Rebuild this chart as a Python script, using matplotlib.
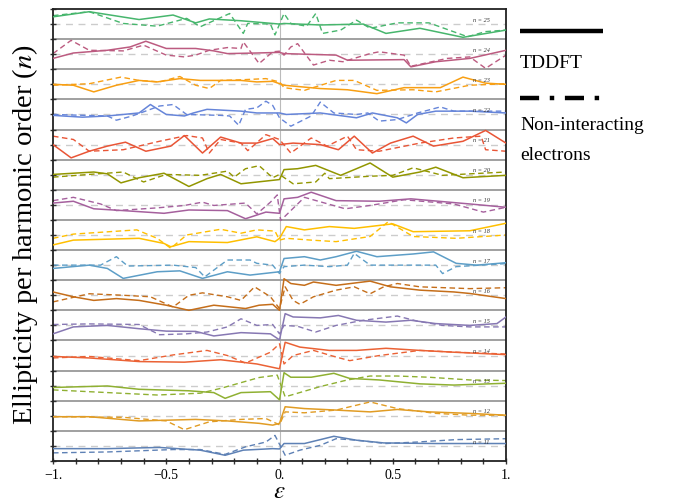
import numpy as np
import matplotlib.pyplot as plt

plt.rcParams['font.family'] = ['Liberation Serif', 'DejaVu Serif']
plt.rcParams['mathtext.fontset'] = 'stix'

# ellipticity per harmonic, (epsilon, value), value in strip units
td11 = [(-1, -0.09), (-0.76, -0.09), (-0.53, -0.05), (-0.35, -0.14), (-0.24, -0.31), (-0.16, -0.14),
        (-0.03, -0.09), (0.0, -0.1), (0.02, 0.08), (0.11, 0.08), (0.24, 0.32), (0.34, 0.19), (0.46, 0.1),
        (0.69, 0.08), (1.0, 0.08)]
ni11 = [(-1, -0.23), (-0.76, -0.2), (-0.47, -0.12), (-0.35, -0.12), (-0.24, -0.28), (-0.15, -0.03),
        (-0.06, 0.13), (-0.02, 0.35), (0.025, -0.31), (0.09, -0.14), (0.18, 0.02), (0.25, 0.24),
        (0.34, 0.19), (0.47, 0.08), (0.61, 0.13), (0.78, 0.21), (1.0, 0.24)]
td12 = [(-1, -0.03), (-0.84, -0.03), (-0.62, -0.17), (-0.37, -0.12), (-0.23, -0.17), (-0.09, -0.25),
        (-0.03, -0.31), (0.0, -0.25), (0.025, 0.3), (0.11, 0.24), (0.25, 0.19), (0.4, 0.13), (0.52, 0.21),
        (0.66, 0.13), (0.84, 0.08), (1.0, 0.02)]
ni12 = [(-1, -0.03), (-0.69, -0.05), (-0.5, -0.17), (-0.42, -0.46), (-0.31, -0.2), (-0.17, -0.12),
        (-0.06, -0.09), (0.0, -0.3), (0.025, 0.13), (0.11, 0.1), (0.25, 0.19), (0.4, 0.46), (0.52, 0.24),
        (0.69, 0.08), (0.84, 0.02), (1.0, 0.02)]
td13 = [(-1, -0.06), (-0.76, -0.01), (-0.62, -0.12), (-0.4, -0.17), (-0.29, -0.23), (-0.24, -0.42),
        (-0.17, -0.23), (-0.04, -0.2), (0.0, -0.47), (0.02, 0.43), (0.05, 0.28), (0.14, 0.28),
        (0.24, 0.41), (0.31, 0.24), (0.44, 0.19), (0.62, 0.06), (0.77, 0.02), (1.0, 0.08)]
ni13 = [(-1, -0.14), (-0.84, -0.2), (-0.54, -0.31), (-0.35, -0.25), (-0.26, -0.09), (-0.17, 0.1),
        (-0.09, 0.27), (-0.01, 0.35), (0.025, -0.37), (0.08, -0.25), (0.18, -0.03), (0.3, 0.19),
        (0.4, 0.32), (0.52, 0.32), (0.66, 0.28), (0.84, 0.19), (1.0, 0.17)]
td14 = [(-1, -0.03), (-0.84, -0.08), (-0.62, -0.2), (-0.42, -0.22), (-0.26, -0.14), (-0.1, -0.28),
        (0.0, -0.44), (0.025, 0.44), (0.09, 0.28), (0.22, 0.17), (0.34, 0.17), (0.47, 0.24),
        (0.62, 0.17), (0.77, 0.11), (1.0, 0.03)]
ni14 = [(-1, -0.08), (-0.84, -0.03), (-0.62, -0.17), (-0.47, 0.02), (-0.32, 0.17), (-0.23, 0.0),
        (-0.15, -0.25), (-0.04, 0.11), (0.0, 0.39), (0.02, -0.28), (0.06, 0.0), (0.15, 0.17),
        (0.25, -0.05), (0.31, -0.17), (0.44, 0.0), (0.62, 0.17), (0.78, 0.11), (1.0, 0.05)]
td15 = [(-1, -0.28), (-0.91, -0.05), (-0.76, 0.0), (-0.62, -0.11), (-0.5, -0.19), (-0.37, -0.2),
        (-0.29, -0.35), (-0.17, -0.24), (-0.04, -0.28), (0.0, -0.48), (0.025, 0.39), (0.06, 0.28),
        (0.18, 0.25), (0.26, 0.33), (0.34, 0.17), (0.47, 0.11), (0.58, 0.17), (0.69, 0.06),
        (0.84, 0.0), (0.96, 0.06), (1.0, 0.28)]
ni15 = [(-1, 0.03), (-0.84, 0.05), (-0.62, 0.03), (-0.53, -0.31), (-0.41, -0.28), (-0.32, -0.22),
        (-0.23, -0.05), (-0.17, 0.22), (-0.1, 0.0), (-0.03, 0.03), (0.0, -0.28), (0.02, 0.0),
        (0.08, -0.03), (0.16, -0.22), (0.25, 0.0), (0.37, 0.17), (0.52, 0.31), (0.61, 0.14),
        (0.72, 0.0), (0.84, -0.05), (1.0, -0.05)]
td16 = [(-1, 0.11), (-0.91, -0.05), (-0.82, -0.17), (-0.72, -0.11), (-0.62, -0.17), (-0.5, -0.33),
        (-0.4, -0.5), (-0.29, -0.33), (-0.15, -0.44), (-0.09, -0.33), (-0.03, -0.3), (0.0, -0.5),
        (0.02, 0.55), (0.05, 0.39), (0.11, 0.33), (0.15, 0.44), (0.25, 0.33), (0.4, 0.47),
        (0.49, 0.28), (0.62, 0.17), (0.77, 0.11), (0.84, 0.06), (1.0, -0.11)]
ni16 = [(-1, -0.22), (-0.84, 0.05), (-0.69, 0.0), (-0.57, -0.05), (-0.47, -0.39), (-0.4, 0.0),
        (-0.34, 0.08), (-0.23, -0.05), (-0.17, -0.17), (-0.11, 0.28), (-0.04, -0.05), (0.0, -0.44),
        (0.025, 0.28), (0.06, -0.17), (0.09, -0.3), (0.15, -0.05), (0.25, 0.17), (0.33, 0.28),
        (0.4, 0.05), (0.46, 0.28), (0.52, 0.39), (0.62, 0.28), (0.84, 0.22), (1.0, 0.25)]
td17 = [(-1, -0.11), (-0.84, 0.0), (-0.76, -0.11), (-0.69, -0.44), (-0.54, -0.22), (-0.44, -0.19),
        (-0.34, -0.44), (-0.23, -0.22), (-0.13, -0.33), (0.0, -0.22), (0.02, 0.22), (0.11, 0.28),
        (0.18, 0.17), (0.25, 0.28), (0.34, 0.46), (0.43, 0.28), (0.59, 0.37), (0.68, 0.44),
        (0.78, 0.06), (0.87, 0.0), (1.0, 0.08)]
ni17 = [(-1, 0.0), (-0.79, 0.0), (-0.72, 0.28), (-0.67, -0.03), (-0.47, 0.0), (-0.37, -0.08),
        (-0.33, -0.39), (-0.23, 0.17), (-0.13, 0.17), (-0.1, 0.06), (-0.03, 0.0), (0.0, -0.28),
        (0.02, -0.05), (0.11, 0.0), (0.22, -0.05), (0.3, 0.0), (0.33, 0.39), (0.4, 0.0), (0.69, 0.0),
        (0.72, -0.28), (0.78, -0.05), (1.0, 0.05)]
td18 = [(-1, -0.33), (-0.91, -0.17), (-0.62, -0.11), (-0.51, -0.28), (-0.48, -0.39), (-0.4, -0.22),
        (-0.23, -0.25), (-0.1, -0.06), (-0.02, -0.22), (0.0, -0.11), (0.03, 0.28), (0.11, 0.17),
        (0.22, 0.28), (0.33, 0.22), (0.5, 0.37), (0.59, 0.11), (0.84, 0.14), (1.0, 0.39)]
ni18 = [(-1, -0.11), (-0.91, 0.03), (-0.63, 0.17), (-0.54, -0.11), (-0.48, -0.44), (-0.41, 0.0),
        (-0.26, 0.19), (-0.17, 0.06), (-0.1, 0.17), (-0.02, 0.13), (0.0, -0.17), (0.03, -0.11),
        (0.14, -0.17), (0.25, -0.22), (0.4, -0.05), (0.48, 0.44), (0.59, -0.05), (0.78, -0.11),
        (1.0, 0.0)]
td19 = [(-1, 0.06), (-0.91, 0.12), (-0.82, -0.13), (-0.69, -0.19), (-0.51, -0.28), (-0.4, -0.17),
        (-0.23, -0.19), (-0.15, -0.46), (-0.06, -0.24), (0.0, -0.28), (0.02, 0.2), (0.08, 0.25),
        (0.14, 0.42), (0.25, 0.14), (0.44, 0.12), (0.58, 0.2), (0.84, 0.03), (1.0, -0.08)]
ni19 = [(-1, 0.14), (-0.91, 0.25), (-0.79, 0.03), (-0.72, -0.19), (-0.54, -0.1), (-0.42, -0.02),
        (-0.34, 0.09), (-0.29, -0.02), (-0.15, 0.06), (-0.1, -0.3), (-0.04, 0.09), (-0.01, 0.33),
        (0.005, -0.52), (0.05, -0.19), (0.11, 0.25), (0.29, -0.13), (0.4, -0.02), (0.55, 0.17),
        (0.77, 0.03), (0.9, -0.24), (1.0, -0.08)]
td20 = [(-1, 0.01), (-0.82, 0.09), (-0.76, 0.03), (-0.7, -0.27), (-0.62, -0.1), (-0.51, 0.05),
        (-0.4, -0.39), (-0.32, -0.13), (-0.26, 0.01), (-0.17, -0.3), (-0.06, -0.21), (0.0, -0.16),
        (0.02, 0.17), (0.08, 0.2), (0.16, 0.31), (0.27, -0.02), (0.4, 0.39), (0.5, -0.08),
        (0.62, 0.09), (0.69, 0.25), (0.81, -0.1), (1.0, -0.02)]
ni20 = [(-1, -0.08), (-0.84, 0.01), (-0.69, 0.09), (-0.6, -0.24), (-0.5, 0.01), (-0.35, -0.02),
        (-0.23, 0.12), (-0.2, -0.08), (-0.15, 0.2), (-0.09, 0.3), (-0.03, -0.1), (0.0, 0.01),
        (0.06, -0.3), (0.16, -0.24), (0.2, 0.05), (0.22, -0.13), (0.4, -0.05), (0.5, -0.02),
        (0.59, 0.23), (0.72, -0.02), (0.84, 0.03), (1.0, 0.09)]
td21 = [(-1, 0.0), (-0.92, -0.44), (-0.84, -0.22), (-0.76, -0.05), (-0.68, 0.08), (-0.59, -0.22),
        (-0.48, -0.05), (-0.42, 0.3), (-0.34, -0.28), (-0.26, 0.25), (-0.17, 0.05), (-0.1, 0.05),
        (-0.03, 0.2), (0.0, 0.0), (0.06, 0.05), (0.18, 0.0), (0.26, -0.17), (0.33, 0.28),
        (0.41, -0.28), (0.49, 0.05), (0.59, 0.28), (0.68, -0.05), (0.81, 0.11), (0.91, 0.47),
        (1.0, 0.05)]
ni21 = [(-1, 0.28), (-0.91, 0.17), (-0.84, -0.22), (-0.69, -0.17), (-0.53, 0.11), (-0.41, 0.3),
        (-0.34, 0.22), (-0.31, -0.28), (-0.26, 0.17), (-0.17, 0.05), (-0.14, -0.2), (-0.06, 0.33),
        (0.0, 0.17), (0.05, -0.28), (0.14, 0.22), (0.21, -0.05), (0.3, 0.28), (0.34, -0.17),
        (0.44, -0.22), (0.62, 0.05), (0.77, 0.22), (0.89, 0.28), (0.91, -0.17), (1.0, -0.22)]
td22 = [(-1, -0.03), (-0.87, -0.09), (-0.76, -0.05), (-0.62, 0.05), (-0.57, 0.33), (-0.5, 0.0),
        (-0.42, -0.05), (-0.38, 0.05), (-0.32, 0.17), (-0.17, 0.11), (-0.1, 0.05), (0.0, 0.05),
        (0.03, 0.0), (0.18, 0.05), (0.34, -0.11), (0.41, 0.05), (0.52, -0.11), (0.56, -0.28),
        (0.61, 0.0), (0.69, 0.11), (0.84, 0.11), (1.0, 0.05)]
ni22 = [(-1, 0.0), (-0.76, -0.05), (-0.72, -0.19), (-0.65, -0.05), (-0.53, 0.28), (-0.47, 0.33),
        (-0.41, 0.0), (-0.26, -0.03), (-0.22, -0.05), (-0.18, -0.36), (-0.15, 0.17), (-0.1, 0.22),
        (-0.06, 0.44), (-0.03, 0.3), (0.0, -0.11), (0.05, -0.39), (0.14, -0.05), (0.18, 0.41),
        (0.24, 0.05), (0.34, 0.0), (0.39, 0.05), (0.44, -0.22), (0.52, -0.17), (0.61, 0.05),
        (0.71, 0.25), (0.77, 0.11), (1.0, 0.11)]
td23 = [(-1, 0.0), (-0.91, -0.03), (-0.82, -0.25), (-0.72, -0.03), (-0.62, 0.13), (-0.54, 0.08),
        (-0.44, 0.19), (-0.35, 0.13), (-0.17, 0.13), (-0.1, 0.08), (-0.03, 0.1), (0.02, -0.03),
        (0.18, -0.14), (0.3, -0.18), (0.43, -0.31), (0.55, -0.11), (0.71, -0.11), (0.81, 0.24),
        (0.91, 0.04), (1.0, 0.0)]
ni23 = [(-1, -0.03), (-0.84, 0.02), (-0.7, 0.24), (-0.62, 0.13), (-0.53, 0.08), (-0.44, 0.26),
        (-0.37, -0.03), (-0.31, -0.14), (-0.26, 0.13), (-0.17, 0.15), (-0.06, 0.19), (0.0, 0.08),
        (0.02, -0.11), (0.11, -0.2), (0.25, 0.13), (0.33, 0.13), (0.43, -0.2), (0.59, -0.18),
        (0.69, -0.25), (0.84, -0.03), (1.0, 0.02)]
td24 = [(-1, -0.14), (-0.91, 0.04), (-0.76, 0.13), (-0.66, 0.24), (-0.59, 0.43), (-0.5, 0.19),
        (-0.37, 0.19), (-0.29, 0.11), (-0.23, 0.02), (-0.1, 0.04), (0.0, 0.06), (0.02, 0.02),
        (0.25, -0.03), (0.3, -0.2), (0.55, -0.18), (0.58, -0.42), (0.69, -0.25), (0.84, -0.14),
        (1.0, 0.13)]
ni24 = [(-1, 0.02), (-0.92, 0.46), (-0.84, 0.13), (-0.69, 0.11), (-0.6, 0.3), (-0.5, -0.03),
        (-0.42, -0.09), (-0.37, -0.03), (-0.31, 0.13), (-0.23, 0.22), (-0.17, 0.19), (-0.16, 0.41),
        (-0.09, -0.31), (-0.03, 0.08), (0.0, 0.1), (0.02, -0.03), (0.05, 0.24), (0.08, 0.35),
        (0.15, -0.36), (0.22, -0.2), (0.28, -0.25), (0.4, 0.02), (0.44, 0.08), (0.55, -0.03),
        (0.58, -0.4), (0.74, -0.14), (0.84, -0.09), (0.91, -0.47), (1.0, -0.03)]
td25 = [(-1, 0.24), (-0.84, 0.41), (-0.62, 0.15), (-0.47, 0.3), (-0.37, 0.04), (-0.31, 0.17),
        (-0.17, 0.11), (0.0, 0.0), (0.02, 0.02), (0.18, -0.03), (0.37, 0.0), (0.47, -0.31),
        (0.62, -0.14), (0.81, -0.44), (1.0, -0.2)]
ni25 = [(-1, 0.28), (-0.84, 0.41), (-0.69, 0.02), (-0.54, -0.07), (-0.41, 0.19), (-0.35, -0.09),
        (-0.22, 0.35), (-0.16, -0.31), (-0.14, 0.02), (-0.04, 0.0), (-0.02, -0.36), (0.02, 0.35),
        (0.05, 0.02), (0.12, -0.07), (0.16, 0.35), (0.19, -0.31), (0.27, -0.2), (0.34, 0.13),
        (0.4, -0.14), (0.52, 0.04), (0.66, 0.04), (0.83, -0.42), (0.91, -0.25), (1.0, -0.2)]

orders = list(range(11, 26))
tddft = [td11, td12, td13, td14, td15, td16, td17, td18, td19, td20, td21, td22, td23, td24, td25]
nonint = [ni11, ni12, ni13, ni14, ni15, ni16, ni17, ni18, ni19, ni20, ni21, ni22, ni23, ni24, ni25]
colors = ['#5E81B5', '#E19C24', '#8FB032', '#EB6235', '#8778B3', '#C56E1A', '#5D9EC7', '#FFBF00',
          '#A5609D', '#929600', '#E95536', '#6685D9', '#F89F13', '#BC5B80', '#47B66D']

fig = plt.figure(figsize=(6.85, 5.04), dpi=100)
ax = fig.add_axes([53 / 685, 43 / 504, 453 / 685, 452 / 504])

ax.axvline(0, color='#bbbbbb', lw=0.8, zorder=1)
for i, n in enumerate(orders):
    base = i + 0.5
    ax.axhline(base, color='#cccccc', lw=1.0, ls=(0, (5, 4)), zorder=1)
    if i > 0:
        ax.axhline(i, color='#999999', lw=1.3, zorder=1)
    x1, v1 = zip(*tddft[i])
    x2, v2 = zip(*nonint[i])
    ax.plot(x1, base + np.array(v1), color=colors[i], lw=1.1, zorder=3)
    ax.plot(x2, base + np.array(v2), color=colors[i], lw=1.0, ls=(0, (4, 2.5)), zorder=2)
    ax.text(0.89, base + 0.13, f'n = {n}', fontsize=4.5, style='italic', ha='center', va='center',
            color='#333333')

ax.set_xlim(-1, 1)
ax.set_ylim(0, 15)
ax.set_xticks([-1, -0.5, 0, 0.5, 1])
ax.set_xticklabels(['\u22121.', '\u22120.5', '0.', '0.5', '1.'], fontsize=10)
ax.set_xticks(np.arange(-1, 1.01, 0.1), minor=True)
ax.set_yticks(np.arange(0, 15.01, 0.5))
ax.set_yticklabels([])
ax.tick_params(axis='both', which='both', direction='inout', length=5, width=1, color='#333333')
for sp in ax.spines.values():
    sp.set_linewidth(1.3)
    sp.set_color('#222222')

ax.set_xlabel(r'$\varepsilon$', fontsize=18, labelpad=-1)
ax.set_ylabel('Ellipticity per harmonic order ($n$)', fontsize=20.5, labelpad=3)

# legend drawn by hand, at the right
fig.add_artist(plt.Line2D([520 / 685, 603 / 685], [1 - 31 / 504, 1 - 31 / 504], color='black', lw=3.2,
                          solid_capstyle='butt'))
fig.text(520 / 685, 1 - 63 / 504, 'TDDFT', fontsize=14, va='center', ha='left')
fig.add_artist(plt.Line2D([520 / 685, 603 / 685], [1 - 98 / 504, 1 - 98 / 504], color='black', lw=3.2,
                          ls=(0, (4.3, 2.4, 1, 2.4)), dash_capstyle='butt'))
fig.text(520 / 685, 1 - 125 / 504, 'Non-interacting', fontsize=14, va='center', ha='left')
fig.text(520 / 685, 1 - 155 / 504, 'electrons', fontsize=14, va='center', ha='left')

fig.savefig('out.png', dpi=100)
